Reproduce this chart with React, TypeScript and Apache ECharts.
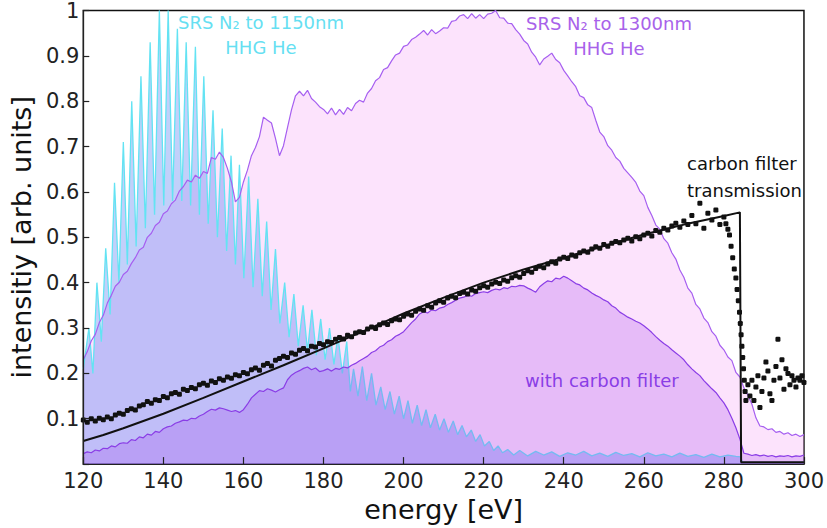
import { useEffect, useRef } from 'react';
import * as echarts from 'echarts';

// energy sampling (eV) shared by the two broadband spectra
const energyGrid = Array.from({ length: 181 }, (_, i) => 120 + i);

// SRS N2 to 1300nm, HHG He
const srs1300 = [
    0.230, 0.248, 0.272, 0.286, 0.312, 0.328, 0.355, 0.372, 0.392, 0.401,
    0.418, 0.425, 0.442, 0.455, 0.472, 0.478, 0.500, 0.509, 0.526, 0.533,
    0.552, 0.558, 0.574, 0.582, 0.602, 0.612, 0.626, 0.622, 0.637, 0.630,
    0.645, 0.641, 0.676, 0.672, 0.688, 0.676, 0.652, 0.622, 0.578, 0.588,
    0.622, 0.648, 0.680, 0.698, 0.722, 0.765, 0.758, 0.752, 0.718, 0.680,
    0.702, 0.742, 0.781, 0.812, 0.822, 0.812, 0.824, 0.806, 0.798, 0.788,
    0.782, 0.772, 0.785, 0.770, 0.782, 0.771, 0.786, 0.779, 0.795, 0.802,
    0.798, 0.818, 0.828, 0.845, 0.852, 0.870, 0.874, 0.889, 0.902, 0.906,
    0.921, 0.924, 0.936, 0.941, 0.948, 0.956, 0.946, 0.958, 0.949, 0.955,
    0.962, 0.961, 0.976, 0.978, 0.988, 0.991, 0.982, 0.993, 0.983, 0.991,
    0.982, 0.992, 0.994, 1.000, 0.984, 0.983, 0.972, 0.971, 0.958, 0.948,
    0.934, 0.926, 0.908, 0.897, 0.880, 0.893, 0.899, 0.906, 0.892, 0.885,
    0.868, 0.856, 0.843, 0.832, 0.812, 0.808, 0.792, 0.786, 0.758, 0.732,
    0.722, 0.702, 0.692, 0.676, 0.668, 0.652, 0.642, 0.632, 0.621, 0.602,
    0.592, 0.566, 0.548, 0.527, 0.518, 0.497, 0.487, 0.466, 0.452, 0.428,
    0.412, 0.388, 0.377, 0.352, 0.342, 0.322, 0.312, 0.292, 0.282, 0.262,
    0.252, 0.236, 0.228, 0.202, 0.192, 0.168, 0.152, 0.132, 0.102, 0.084,
    0.082, 0.076, 0.078, 0.070, 0.072, 0.066, 0.069, 0.063, 0.066, 0.061, 0.065,
];

// same source, with carbon filter
const withCarbon = [
    0.023, 0.027, 0.025, 0.031, 0.029, 0.035, 0.034, 0.040, 0.038, 0.045,
    0.047, 0.046, 0.054, 0.052, 0.060, 0.058, 0.066, 0.064, 0.072, 0.070,
    0.078, 0.082, 0.084, 0.090, 0.093, 0.097, 0.096, 0.101, 0.100, 0.106,
    0.110, 0.116, 0.121, 0.119, 0.124, 0.122, 0.119, 0.116, 0.118, 0.114,
    0.120, 0.132, 0.146, 0.154, 0.162, 0.160, 0.166, 0.163, 0.159, 0.164,
    0.168, 0.186, 0.196, 0.202, 0.206, 0.211, 0.214, 0.208, 0.212, 0.204,
    0.206, 0.210, 0.205, 0.211, 0.209, 0.214, 0.212, 0.218, 0.222, 0.228,
    0.233, 0.238, 0.246, 0.250, 0.258, 0.262, 0.270, 0.274, 0.282, 0.286,
    0.292, 0.302, 0.312, 0.320, 0.331, 0.336, 0.333, 0.340, 0.338, 0.344,
    0.346, 0.352, 0.356, 0.361, 0.366, 0.368, 0.372, 0.370, 0.376, 0.378,
    0.380, 0.378, 0.383, 0.386, 0.384, 0.389, 0.387, 0.392, 0.391, 0.394,
    0.393, 0.388, 0.384, 0.379, 0.391, 0.398, 0.404, 0.402, 0.410, 0.408,
    0.414, 0.410, 0.404, 0.398, 0.395, 0.388, 0.384, 0.377, 0.372, 0.368,
    0.362, 0.358, 0.349, 0.344, 0.335, 0.330, 0.324, 0.320, 0.315, 0.311,
    0.305, 0.298, 0.290, 0.281, 0.273, 0.266, 0.260, 0.252, 0.245, 0.238,
    0.230, 0.219, 0.210, 0.202, 0.195, 0.184, 0.175, 0.166, 0.158, 0.146,
    0.135, 0.120, 0.101, 0.080, 0.055, 0.024, 0.022, 0.019, 0.021, 0.018,
    0.020, 0.017, 0.019, 0.016, 0.018, 0.017, 0.019, 0.016, 0.018, 0.017, 0.020,
];

// SRS N2 to 1150nm, HHG He: harmonic comb (trough / peak pairs)
const srs1150E = [
    120.0, 121.4, 122.4, 123.4, 124.5, 125.6, 126.7, 127.8, 128.9, 130.0,
    131.0, 132.1, 133.2, 134.4, 135.5, 136.7, 137.8, 139.0, 140.1, 141.2,
    142.3, 143.5, 144.6, 145.7, 146.8, 148.0, 149.0, 150.1, 151.2, 152.4,
    153.5, 154.7, 155.8, 156.9, 158.0, 159.0, 160.1, 161.3, 162.4, 163.6,
    164.7, 165.8, 166.9, 168.0, 169.1, 170.3, 171.4, 172.6, 173.7, 174.9,
    176.0, 177.1, 178.2, 179.3, 180.4, 181.5, 182.6, 183.6, 184.7, 185.8,
    186.7, 187.5, 188.6, 189.7, 190.8, 192.0, 193.1, 194.3, 195.4, 196.6,
    197.7, 198.9, 200.0, 201.1, 202.2, 203.4, 204.5, 205.6, 206.7, 207.9,
    209.0, 210.1, 211.2, 212.4, 213.5, 214.6, 215.7, 216.9, 218.0, 219.1,
    220.2, 221.4, 222.5, 223.6, 224.7, 226.0, 227.5, 229.0, 231.0, 233.0,
    235.0, 237.0, 239.0, 241.0, 243.0, 245.0, 247.0, 249.0, 251.0, 253.0,
    255.0, 257.0, 259.0, 261.0, 263.0, 265.0, 267.0, 269.0, 271.0, 273.0,
    275.0, 277.0, 279.0, 281.0, 283.0, 284.2, 284.6, 300.0,
];
const srs1150V = [
    0.210, 0.300, 0.200, 0.400, 0.270, 0.476, 0.330, 0.620, 0.400, 0.710,
    0.440, 0.800, 0.480, 0.855, 0.520, 0.930, 0.550, 1.000, 0.570, 1.000,
    0.580, 0.960, 0.580, 0.930, 0.570, 0.920, 0.550, 0.855, 0.530, 0.780,
    0.500, 0.740, 0.470, 0.680, 0.440, 0.660, 0.410, 0.634, 0.390, 0.585,
    0.370, 0.535, 0.340, 0.474, 0.310, 0.400, 0.280, 0.375, 0.260, 0.350,
    0.250, 0.340, 0.240, 0.320, 0.230, 0.300, 0.220, 0.283, 0.200, 0.270,
    0.160, 0.210, 0.150, 0.215, 0.140, 0.200, 0.130, 0.170, 0.120, 0.160,
    0.110, 0.150, 0.100, 0.140, 0.090, 0.130, 0.085, 0.120, 0.080, 0.110,
    0.075, 0.100, 0.070, 0.095, 0.065, 0.085, 0.060, 0.075, 0.050, 0.065,
    0.040, 0.050, 0.030, 0.040, 0.025, 0.032, 0.020, 0.030, 0.018, 0.028,
    0.020, 0.027, 0.017, 0.025, 0.020, 0.028, 0.018, 0.024, 0.017, 0.026,
    0.019, 0.023, 0.016, 0.025, 0.018, 0.022, 0.016, 0.024, 0.017, 0.021,
    0.015, 0.022, 0.016, 0.020, 0.017, 0.016, 0.004, 0.004,
];

// calculated carbon filter transmission
const theoryE = [120, 125, 130, 140, 150, 160, 170, 180, 190, 200, 210, 220, 230, 240, 250, 260, 270, 280, 284, 284.3, 300];
const theoryV = [0.051, 0.064, 0.079, 0.111, 0.146, 0.182, 0.218, 0.255, 0.293, 0.332, 0.367, 0.4, 0.429, 0.455, 0.481, 0.506, 0.528, 0.547, 0.555, 0.004, 0.004];

// measured carbon filter transmission
const measEdge = [
    280.5, 281.0, 281.4, 281.8, 282.2, 282.6, 283.0, 283.3, 283.6, 283.9,
    284.1, 284.3, 284.5, 284.7, 284.9, 285.1, 285.3, 285.5, 286.0, 286.5,
    287.0, 287.5, 288.0, 288.5, 289.0, 289.5, 290.0, 290.5, 291.0, 291.5,
    292.0, 292.5, 293.0, 293.5, 294.0, 294.5, 295.0, 295.5, 296.0, 296.5,
    297.0, 297.5, 298.0, 298.5, 299.0, 299.5, 300.0,
];
const measE = energyGrid.slice(0, 161).concat(measEdge);
const measV = [
    0.097, 0.092, 0.100, 0.095, 0.101, 0.098, 0.104, 0.100, 0.108, 0.112,
    0.110, 0.118, 0.122, 0.119, 0.128, 0.131, 0.138, 0.134, 0.142, 0.140,
    0.149, 0.146, 0.155, 0.158, 0.154, 0.165, 0.162, 0.169, 0.166, 0.175,
    0.178, 0.174, 0.183, 0.180, 0.188, 0.185, 0.192, 0.189, 0.197, 0.195,
    0.202, 0.199, 0.208, 0.212, 0.207, 0.218, 0.222, 0.216, 0.229, 0.233,
    0.238, 0.235, 0.245, 0.242, 0.251, 0.255, 0.250, 0.260, 0.258, 0.266,
    0.263, 0.270, 0.268, 0.275, 0.279, 0.276, 0.284, 0.281, 0.289, 0.292,
    0.290, 0.298, 0.302, 0.299, 0.307, 0.311, 0.308, 0.316, 0.320, 0.318,
    0.326, 0.331, 0.328, 0.337, 0.342, 0.339, 0.349, 0.346, 0.355, 0.360,
    0.357, 0.366, 0.370, 0.367, 0.376, 0.379, 0.375, 0.384, 0.381, 0.389,
    0.393, 0.390, 0.397, 0.401, 0.398, 0.406, 0.403, 0.411, 0.415, 0.412,
    0.420, 0.426, 0.423, 0.431, 0.436, 0.433, 0.441, 0.446, 0.443, 0.452,
    0.456, 0.453, 0.461, 0.458, 0.466, 0.470, 0.467, 0.474, 0.479, 0.476,
    0.484, 0.480, 0.487, 0.491, 0.488, 0.494, 0.498, 0.492, 0.501, 0.497,
    0.505, 0.509, 0.503, 0.515, 0.511, 0.520, 0.516, 0.525, 0.531, 0.522,
    0.536, 0.528, 0.548, 0.530, 0.575, 0.520, 0.553, 0.538, 0.560, 0.528,
    0.545,
    0.530, 0.518, 0.505, 0.480, 0.455, 0.430, 0.410, 0.385, 0.360, 0.335,
    0.310, 0.285, 0.260, 0.235, 0.210, 0.185, 0.160, 0.140, 0.175, 0.150,
    0.185, 0.140, 0.170, 0.195, 0.125, 0.160, 0.190, 0.225, 0.205, 0.155,
    0.140, 0.185, 0.215, 0.275, 0.190, 0.230, 0.165, 0.210, 0.200, 0.175,
    0.195, 0.185, 0.170, 0.190, 0.185, 0.195, 0.180,
];

const xTicks = [120, 140, 160, 180, 200, 220, 240, 260, 280, 300];
const yTickLabels = ['', '0.1', '0.2', '0.3', '0.4', '0.5', '0.6', '0.7', '0.8', '0.9', '1'];

const FONT = '"DejaVu Sans", Verdana, sans-serif';

const zip = (xs: number[], ys: number[]) => ys.map((y, i) => [xs[i], y]);

export default function App() {
    const chartRef = useRef<HTMLDivElement>(null);

    useEffect(() => {
        if (!chartRef.current) return;
        const chart = echarts.init(chartRef.current, undefined, { renderer: 'svg' });

        const option: echarts.EChartsOption = {
            animation: false,
            backgroundColor: '#fff',
            grid: {
                left: 66,
                right: 20,
                top: 8,
                bottom: 50,
                show: true,
                borderColor: '#111',
                borderWidth: 1.5,
                backgroundColor: 'transparent',
            },
            xAxis: {
                type: 'value',
                min: 120,
                max: 300,
                interval: 20,
                z: 10,
                name: 'energy [eV]',
                nameLocation: 'middle',
                nameGap: 20,
                nameTextStyle: { fontSize: 27, color: '#111', fontFamily: FONT },
                axisLine: { lineStyle: { color: '#222', width: 1.2 } },
                axisTick: { inside: true, length: 7, lineStyle: { color: '#222', width: 1.2 } },
                axisLabel: {
                    fontSize: 21,
                    color: '#222',
                    fontFamily: FONT,
                    margin: 6,
                    formatter: (v: number) => (xTicks.includes(v) ? String(v) : ''),
                },
                splitLine: { show: false },
            },
            yAxis: {
                type: 'value',
                min: 0,
                max: 1,
                interval: 0.1,
                z: 10,
                name: 'intensitiy [arb. units]',
                nameLocation: 'middle',
                nameGap: 46,
                nameTextStyle: { fontSize: 27, color: '#111', fontFamily: FONT },
                axisLine: { show: true, lineStyle: { color: '#222', width: 1.2 } },
                axisTick: { show: true, inside: true, length: 6, lineStyle: { color: '#222', width: 1.2 } },
                axisLabel: {
                    fontSize: 21,
                    color: '#222',
                    fontFamily: FONT,
                    margin: 4,
                    formatter: (v: number) => yTickLabels[Math.round(v * 10)] ?? '',
                },
                splitLine: { show: false },
            },
            graphic: [
                {
                    type: 'text',
                    x: 261,
                    y: 9.5,
                    z: 100,
                    style: {
                        text: 'SRS N₂ to 1150nm\nHHG He',
                        fill: '#66dff2',
                        font: `18px ${FONT}`,
                        align: 'center',
                        verticalAlign: 'top',
                        lineHeight: 25,
                    },
                },
                {
                    type: 'text',
                    x: 609,
                    y: 10.5,
                    z: 100,
                    style: {
                        text: 'SRS N₂ to 1300nm\nHHG He',
                        fill: '#a862ea',
                        font: `18px ${FONT}`,
                        align: 'center',
                        verticalAlign: 'top',
                        lineHeight: 25,
                    },
                },
                {
                    type: 'text',
                    x: 687,
                    y: 149.5,
                    z: 100,
                    style: {
                        text: 'carbon filter\ntransmission',
                        fill: '#111',
                        font: `18px ${FONT}`,
                        align: 'left',
                        verticalAlign: 'top',
                        lineHeight: 27,
                    },
                },
                {
                    type: 'text',
                    x: 525,
                    y: 380,
                    z: 100,
                    style: {
                        text: 'with carbon filter',
                        fill: '#8a3ee6',
                        font: `18px ${FONT}`,
                        align: 'left',
                        verticalAlign: 'middle',
                    },
                },
            ],
            series: [
                {
                    name: '1300nm fill',
                    type: 'line',
                    data: zip(energyGrid, srs1300),
                    symbol: 'none',
                    lineStyle: { width: 0 },
                    areaStyle: { color: 'rgba(245,175,245,0.5)' },
                    z: 1,
                },
                {
                    name: 'SRS N2 to 1150nm',
                    type: 'line',
                    data: zip(srs1150E, srs1150V),
                    symbol: 'none',
                    lineStyle: { color: '#63e3f3', width: 1.3 },
                    areaStyle: { color: 'rgba(80,120,240,0.5)' },
                    z: 2,
                },
                {
                    name: 'with carbon filter',
                    type: 'line',
                    data: zip(energyGrid, withCarbon),
                    symbol: 'none',
                    lineStyle: { color: '#8a3de6', width: 1.2 },
                    areaStyle: { color: 'rgba(165,75,235,0.37)' },
                    z: 3,
                },
                {
                    name: 'SRS N2 to 1300nm',
                    type: 'line',
                    data: zip(energyGrid, srs1300),
                    symbol: 'none',
                    lineStyle: { color: '#a65ff0', width: 1.2 },
                    z: 4,
                },
                {
                    name: 'calculated transmission',
                    type: 'line',
                    data: zip(theoryE, theoryV),
                    symbol: 'none',
                    lineStyle: { color: '#111', width: 2 },
                    z: 5,
                },
                {
                    name: 'measured transmission',
                    type: 'scatter',
                    data: zip(measE, measV),
                    symbol: 'roundRect',
                    symbolSize: 5,
                    itemStyle: { color: '#111', opacity: 1 },
                    z: 6,
                },
            ],
        };

        chart.setOption(option);

        return () => {
            chart.dispose();
        };
    }, []);

    return (
        <div
            ref={chartRef}
            style={{ position: 'fixed', left: 0, top: 0, width: 827, height: 528, background: '#fff' }}
        />
    );
}
